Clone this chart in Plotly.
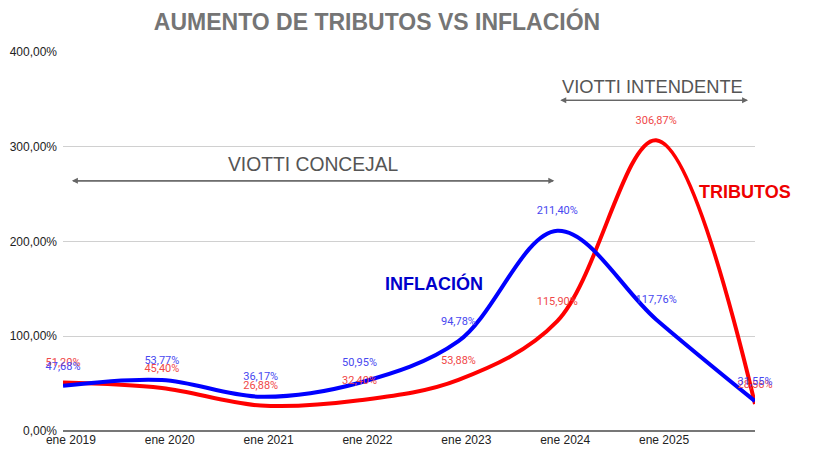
import plotly.graph_objects as go

# puntos anuales (ene 2019 ... ene 2026)
puntos = [0, 1, 2, 3, 4, 5, 6, 7]
etiquetas_x = ["ene 2019", "ene 2020", "ene 2021", "ene 2022",
               "ene 2023", "ene 2024", "ene 2025"]

inflacion = [47.68, 53.77, 36.17, 50.95, 94.78, 211.40, 117.76, 31.55]
tributos = [51.20, 45.40, 26.88, 32.40, 53.88, 115.90, 306.87, 28.56]

y_ticks = [0, 100, 200, 300, 400]


def fmt(v):
    return f"{v:.2f}".replace(".", ",") + "%"


fig = go.Figure()

# tributos primero (queda debajo)
fig.add_trace(go.Scatter(
    x=puntos, y=tributos, mode="lines",
    line=dict(color="#ff0000", width=4, shape="spline", smoothing=1),
    hoverinfo="skip"))
fig.add_trace(go.Scatter(
    x=puntos, y=inflacion, mode="lines",
    line=dict(color="#0000ff", width=4, shape="spline", smoothing=1),
    hoverinfo="skip"))

fig.add_trace(go.Scatter(
    x=puntos, y=tributos, mode="markers+text", cliponaxis=False,
    marker=dict(size=20, opacity=0),
    text=[fmt(v) for v in tributos], textposition="top center",
    textfont=dict(family="Roboto", size=11, color="#f04848"),
    hoverinfo="skip"))
fig.add_trace(go.Scatter(
    x=puntos, y=inflacion, mode="markers+text", cliponaxis=False,
    marker=dict(size=20, opacity=0),
    text=[fmt(v) for v in inflacion], textposition="top center",
    textfont=dict(family="Roboto", size=11, color="#4848f0"),
    hoverinfo="skip"))

gris = "#666666"
narrow = "Liberation Sans Narrow, Liberation Sans, Arial"

# flechas de periodos
for x0, x1, y in [(0.09, 4.97, 264), (5.03, 6.93, 349)]:
    for a, b in [(x0, x1), (x1, x0)]:
        fig.add_annotation(x=b, y=y, ax=a, ay=y, xref="x", yref="y",
                           axref="x", ayref="y", text="", showarrow=True,
                           arrowhead=2, arrowsize=1, arrowwidth=1.2,
                           arrowcolor=gris)

fig.add_annotation(x=2.53, y=281, text="VIOTTI CONCEJAL", showarrow=False,
                   font=dict(family=narrow, size=19.3, color="#555555"))
fig.add_annotation(x=5.96, y=364, text="VIOTTI INTENDENTE", showarrow=False,
                   font=dict(family=narrow, size=18.3, color="#555555"))
fig.add_annotation(x=6.9, y=252, text="<b>TRIBUTOS</b>", showarrow=False,
                   font=dict(family="Liberation Sans, Arial", size=18,
                             color="#ee0000"))
fig.add_annotation(x=3.75, y=156, text="<b>INFLACIÓN</b>", showarrow=False,
                   font=dict(family="Liberation Sans, Arial", size=18,
                             color="#0000cc"))

# la pagina deja 8px de margen en el body: la figura se ajusta a eso
fig.update_layout(
    width=797, height=439,
    margin=dict(l=55, r=50, t=44, b=16, autoexpand=False),
    paper_bgcolor="white", plot_bgcolor="white",
    showlegend=False,
    title=dict(text="<b>AUMENTO DE TRIBUTOS VS INFLACIÓN</b>",
               x=0.463, xanchor="center", y=0.968, yanchor="middle",
               font=dict(family=narrow, size=23, color="#757575")),
    xaxis=dict(range=[0, 7], tickmode="array", automargin=False,
               tickvals=[p + 0.08 for p in puntos[:7]], ticktext=etiquetas_x,
               showgrid=False, zeroline=False, showline=False, ticks="",
               tickfont=dict(family="Liberation Sans, Arial", size=12,
                             color="#222222")),
    yaxis=dict(range=[0, 400], tickmode="array", tickvals=y_ticks,
               automargin=False, ticklabelstandoff=5,
               ticktext=[fmt(v) for v in y_ticks],
               showgrid=True, gridcolor="#d0d0d0",
               gridwidth=1, zeroline=True, zerolinecolor="#777777",
               zerolinewidth=1.5, showline=False, ticks="",
               tickfont=dict(family="Liberation Sans, Arial", size=12,
                             color="#222222")),
)

fig.write_html("out.html")
